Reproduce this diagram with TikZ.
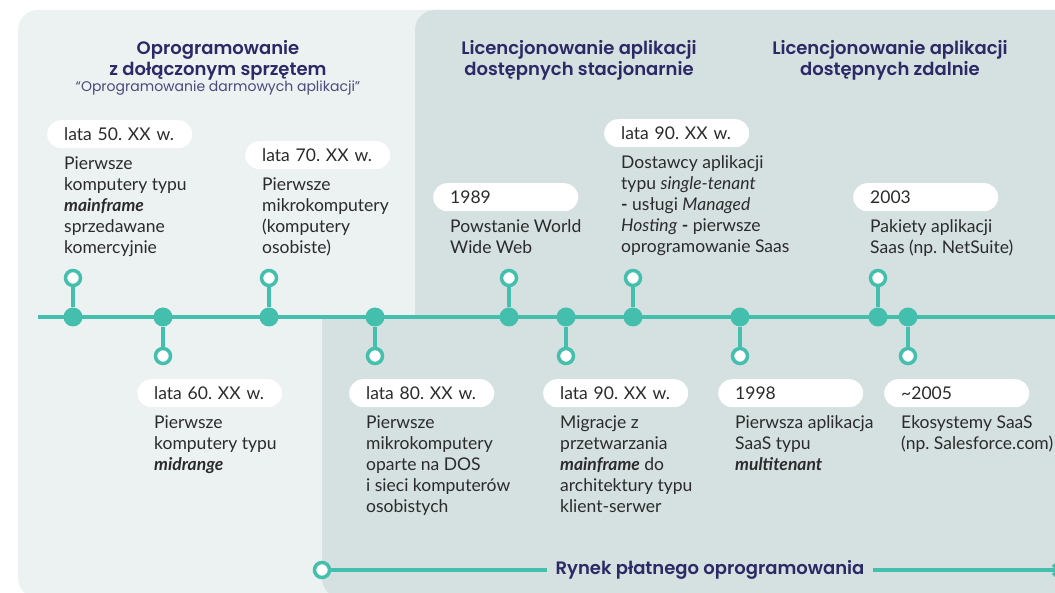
\documentclass[tikz,border=0pt]{standalone}
\usepackage{fontspec}
\setmainfont{Lato}
\newfontfamily\headfont[BoldFont={Poppins SemiBold}]{Poppins}
\usetikzlibrary{positioning,arrows.meta}
\frenchspacing

\definecolor{tlgreen}{HTML}{45BFAD}
\definecolor{panellight}{HTML}{ECF1F1}
\definecolor{paneldark}{HTML}{D5E0E0}
\definecolor{navy}{HTML}{2C2966}
\definecolor{bodytext}{HTML}{2B2B2B}

\begin{document}
\begin{tikzpicture}[x=1pt,y=-1pt]
    \tikzset{dot/.style = {shape=circle, fill=tlgreen, minimum size=19pt, inner sep=0pt}}
    \tikzset{ring/.style = {shape=circle, draw=tlgreen, line width=3.5pt, fill=white, minimum size=15pt, inner sep=0pt}}
    \tikzset{stem/.style = {draw=tlgreen, line width=4pt}}
    \tikzset{datebox/.style = {fill=white, rounded corners=14pt, minimum width=145pt, minimum height=28pt, text width=111pt, inner xsep=17pt, inner ysep=0pt, align=left, anchor=north west, text=bodytext, font=\fontsize{17.5}{21}\selectfont}}
    \tikzset{desc/.style = {anchor=north west, inner sep=0pt, align=left, text=bodytext, font=\fontsize{17.5}{21}\selectfont}}
    \tikzset{head/.style = {align=center, text=navy, font=\headfont\bfseries\fontsize{18}{21}\selectfont}}
    \tikzset{subhead/.style = {text=navy!85, font=\headfont\fontsize{14}{16}\selectfont}}
    \tikzset{market/.style = {inner xsep=8pt, text=navy, font=\headfont\bfseries\fontsize{18}{20}\selectfont}}

    \useasboundingbox (0,0) rectangle (1055,593);
    \clip (0,0) rectangle (1055,593);

    % panels
    \fill[panellight, rounded corners=20pt] (18,10) rectangle (1100,598);
    \fill[paneldark, rounded corners=20pt] (415,10) rectangle (1100,340);
    \fill[paneldark] (322,317) rectangle (1100,560);
    \fill[paneldark, rounded corners=20pt] (322,330) rectangle (1100,598);

    % headings
    \node[head] (h1) at (218,60) {Oprogramowanie\\z dołączonym sprzętem};
    \node[subhead] (s1) at (218,88) {“Oprogramowanie darmowych aplikacji”};
    \node[head] (h2) at (579,60) {Licencjonowanie aplikacji\\dostępnych stacjonarnie};
    \node[head] (h3) at (890,60) {Licencjonowanie aplikacji\\dostępnych zdalnie};

    % timeline
    \coordinate (tl0) at (38,317);
    \coordinate (tl1) at (1060,317);
    \draw[stem] (tl0) -- (tl1);

    % events on the line
    \node[dot] (d50) at (73,317) {};
    \node[dot] (d60) at (163,317) {};
    \node[dot] (d70) at (269,317) {};
    \node[dot] (d80) at (375,317) {};
    \node[dot] (d89) at (509,317) {};
    \node[dot] (d90b) at (566,317) {};
    \node[dot] (d90a) at (633,317) {};
    \node[dot] (d98) at (740,317) {};
    \node[dot] (d03) at (878,317) {};
    \node[dot] (d05) at (908,317) {};

    % rings
    \node[ring] (r50) at (73,278) {};
    \node[ring] (r70) at (269,278) {};
    \node[ring] (r89) at (509,278) {};
    \node[ring] (r90a) at (633,278) {};
    \node[ring] (r03) at (878,278) {};
    \node[ring] (r60) at (163,356) {};
    \node[ring] (r80) at (375,356) {};
    \node[ring] (r90b) at (566,356) {};
    \node[ring] (r98) at (740,356) {};
    \node[ring] (r05) at (908,356) {};

    % stems
    \draw[stem] (d50) -- (r50);
    \draw[stem] (d70) -- (r70);
    \draw[stem] (d89) -- (r89);
    \draw[stem] (d90a) -- (r90a);
    \draw[stem] (d03) -- (r03);
    \draw[stem] (d60) -- (r60);
    \draw[stem] (d80) -- (r80);
    \draw[stem] (d90b) -- (r90b);
    \draw[stem] (d98) -- (r98);
    \draw[stem] (d05) -- (r05);

    % dates above
    \node[datebox] (b50) at (47,120) {lata 50. XX w.};
    \node[datebox] (b70) at (245,141) {lata 70. XX w.};
    \node[datebox] (b89) at (433,183) {1989};
    \node[datebox] (b90a) at (604,119) {lata 90. XX w.};
    \node[datebox] (b03) at (853,183) {2003};

    % dates below
    \node[datebox] (b60) at (137,379) {lata 60. XX w.};
    \node[datebox] (b80) at (349,379) {lata 80. XX w.};
    \node[datebox] (b90b) at (543,379) {lata 90. XX w.};
    \node[datebox] (b98) at (718,379) {1998};
    \node[datebox] (b05) at (884,379) {\textasciitilde 2005};

    % descriptions
    \node[desc, below right=8pt and 17pt of b50.south west] (t50) {Pierwsze\\komputery typu\\\textbf{\textit{mainframe}}\\sprzedawane\\komercyjnie};
    \node[desc, below right=8pt and 17pt of b70.south west] (t70) {Pierwsze\\mikrokomputery\\(komputery\\osobiste)};
    \node[desc, below right=8pt and 17pt of b89.south west] (t89) {Powstanie World\\Wide Web};
    \node[desc, below right=8pt and 17pt of b90a.south west] (t90a) {Dostawcy aplikacji\\typu \textit{single-tenant}\\\textbf{-} usługi \textit{Managed}\\\textit{Hosting} \textbf{-} pierwsze\\oprogramowanie Saas};
    \node[desc, below right=8pt and 17pt of b03.south west] (t03) {Pakiety aplikacji\\Saas (np. NetSuite)};
    \node[desc, below right=8pt and 17pt of b60.south west] (t60) {Pierwsze\\komputery typu\\\textbf{\textit{midrange}}};
    \node[desc, below right=8pt and 17pt of b80.south west] (t80) {Pierwsze\\mikrokomputery\\oparte na DOS\\i sieci komputerów\\osobistych};
    \node[desc, below right=8pt and 17pt of b90b.south west] (t90b) {Migracje z\\przetwarzania\\\textbf{\textit{mainframe}} do\\architektury typu\\klient-serwer};
    \node[desc, below right=8pt and 17pt of b98.south west] (t98) {Pierwsza aplikacja\\SaaS typu\\\textbf{\textit{multitenant}}};
    \node[desc, below right=8pt and 17pt of b05.south west] (t05) {Ekosystemy SaaS\\(np. Salesforce.com)};

    % paid software market
    \node[ring] (rstart) at (322,570) {};
    \node[market] (rynek) at (710,570) {Rynek płatnego oprogramowania};
    \coordinate (rend) at (1061,570);
    \draw[stem] (rstart) -- (rynek);
    \draw[stem, -{Straight Barb[length=5pt,width=11pt]}] (rynek) -- (rend);
\end{tikzpicture}
\end{document}
